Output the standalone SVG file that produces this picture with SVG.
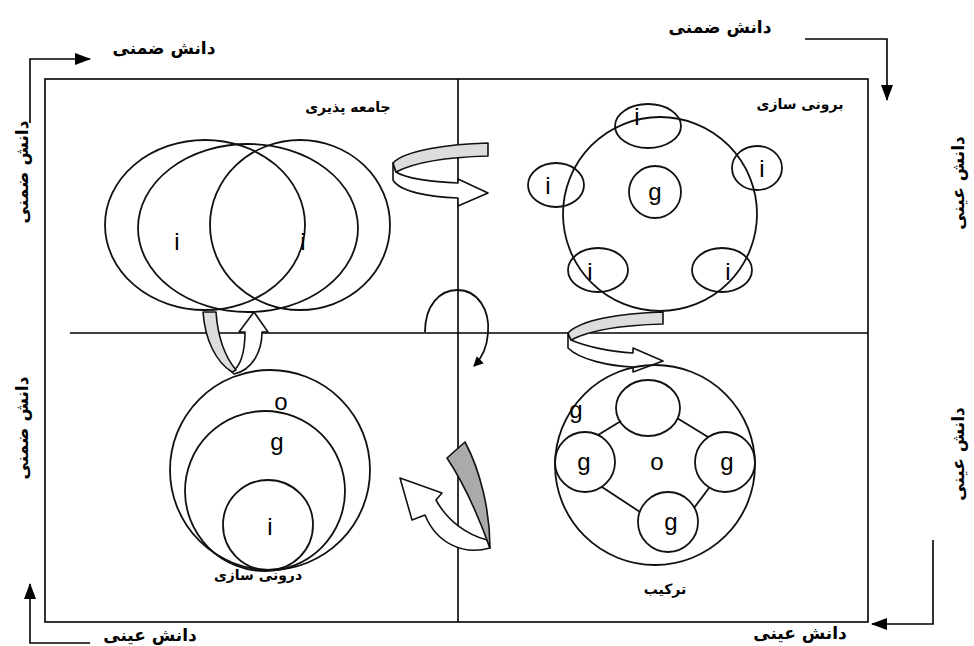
<svg xmlns="http://www.w3.org/2000/svg" width="974" height="646" viewBox="0 0 974 646">
<defs>
<style>
.ln{fill:none;stroke:#000;stroke-width:1.6}
.sh{fill:none;stroke:#111;stroke-width:1.8}
.lbl{font-family:"DejaVu Sans",sans-serif;font-weight:bold;font-size:17px;fill:#000}
.ql{font-family:"DejaVu Sans",sans-serif;font-weight:bold;font-size:14px;fill:#000}
.lt{font-family:"Liberation Sans",Arial,sans-serif;font-size:24px;fill:#000;text-anchor:middle}
.wa{fill:#fff;stroke:#111;stroke-width:1.6;stroke-linejoin:round}
.ga{fill:#ddd;stroke:#111;stroke-width:1.6;stroke-linejoin:round}
.gd{fill:#aaa;stroke:#111;stroke-width:1.6;stroke-linejoin:round}
</style>
<marker id="ah" markerWidth="10" markerHeight="10" refX="9" refY="5" orient="auto" markerUnits="userSpaceOnUse" viewBox="0 0 10 10">
<path d="M0,0 L10,5 L0,10 Z" fill="#000"/>
</marker>
<marker id="ahb" markerWidth="16" markerHeight="12" refX="15" refY="6" orient="auto" markerUnits="userSpaceOnUse" viewBox="0 0 16 12">
<path d="M0,0 L16,6 L0,12 Z" fill="#000"/>
</marker>
</defs>
<rect width="974" height="646" fill="#fff"/>

<g id="frame">
<rect x="45" y="79" width="823" height="543" class="ln"/>
<line x1="458" y1="79" x2="458" y2="622" class="ln"/>
<line x1="70" y1="333" x2="868" y2="333" class="ln"/>
</g>

<g id="connectors">
<polyline points="30,123 30,59 90,59" class="ln" marker-end="url(#ahb)"/>
<polyline points="805,39 887,39 887,100" class="ln" marker-end="url(#ahb)"/>
<polyline points="933,540 933,624 872,624" class="ln" marker-end="url(#ahb)"/>
<polyline points="90,643 30,643 30,584" class="ln" marker-end="url(#ahb)"/>
<!-- top U-turn -->
<path class="wa" d="M393,163 L393,180 C400,192 430,197 458,198 L458,206 L488,193 L458,179 L458,183 C430,182 405,178 396,172 Z"/>
<path class="ga" d="M393,163 C405,150 450,144 488,143 L488,156 C450,157 415,162 396,172 Z"/>
<!-- right U-turn -->
<path class="wa" d="M568,333 L568,348 C580,360 610,366 633,367 L633,372 L663,361 L633,348 L633,353 C610,352 585,346 571,340 Z"/>
<path class="ga" d="M568,333 C580,320 620,313 663,312 L663,324 C625,325 590,330 571,340 Z"/>
<!-- left U-turn -->
<path class="wa" d="M232,372 C242,365 245,350 245,332 L239,332 L254,312 L268,332 L262,332 C262,352 252,370 234,374 Z"/>
<path class="ga" d="M203,312 L216,312 C218,340 226,358 236,370 L232,372 C216,362 205,340 203,312 Z"/>
<!-- bottom U-turn -->
<path class="wa" d="M490,548 C462,556 436,542 425,515 L412,520 L400,478 L442,493 L436,500 C448,522 468,535 487,540 Z"/>
<path class="gd" d="M447,458 L465,442 C480,470 490,510 490,548 C478,515 465,485 447,458 Z"/>
<!-- center loop -->
<path class="sh" d="M425,332 C425,305 440,290 457,290 C478,290 490,310 488,333 C487,348 482,358 474,366" marker-end="url(#ah)"/>
</g>

<g id="labels">
<text class="lbl" x="164" y="54" text-anchor="middle" direction="rtl">دانش ضمنی</text>
<text class="lbl" x="720" y="33" text-anchor="middle" direction="rtl">دانش ضمنی</text>
<text class="lbl" x="150" y="641" text-anchor="middle" direction="rtl">دانش عینی</text>
<text class="lbl" x="800" y="639" text-anchor="middle" direction="rtl">دانش عینی</text>
<text class="lbl" transform="translate(28,172) rotate(-90)" text-anchor="middle" direction="rtl">دانش ضمنی</text>
<text class="lbl" transform="translate(28,428) rotate(-90)" text-anchor="middle" direction="rtl">دانش ضمنی</text>
<text class="lbl" transform="translate(964,183) rotate(-90)" text-anchor="middle" direction="rtl">دانش عینی</text>
<text class="lbl" transform="translate(964,454) rotate(-90)" text-anchor="middle" direction="rtl">دانش عینی</text>
</g>

<g id="socialization">
<text class="ql" x="348" y="112" text-anchor="middle" direction="rtl">جامعه پذیری</text>
<ellipse cx="205" cy="225" rx="100" ry="85" class="sh"/>
<ellipse cx="300" cy="225" rx="90" ry="85" class="sh"/>
<ellipse cx="248" cy="228" rx="110" ry="84" class="sh"/>
<text class="lt" x="177" y="250">i</text>
<text class="lt" x="303" y="250">i</text>
</g>

<g id="externalization">
<text class="ql" x="800" y="109" text-anchor="middle" direction="rtl">برونی سازی</text>
<circle cx="660" cy="214" r="97" class="sh"/>
<circle cx="655" cy="192" r="26" class="sh"/>
<text class="lt" x="655" y="200">g</text>
<ellipse cx="648" cy="126" rx="33" ry="22" class="sh"/>
<text class="lt" x="637" y="125">i</text>
<ellipse cx="757" cy="168" rx="25" ry="22" class="sh"/>
<text class="lt" x="762" y="177">i</text>
<ellipse cx="556" cy="185" rx="28" ry="22" class="sh"/>
<text class="lt" x="548" y="194">i</text>
<ellipse cx="598" cy="270" rx="30" ry="22" class="sh"/>
<text class="lt" x="590" y="280">i</text>
<ellipse cx="722" cy="270" rx="30" ry="22" class="sh"/>
<text class="lt" x="728" y="280">i</text>
</g>

<g id="combination">
<circle cx="655" cy="465" r="100" class="sh"/>
<ellipse cx="648" cy="408" rx="32" ry="28" class="sh"/>
<circle cx="585" cy="462" r="30" class="sh"/>
<circle cx="725" cy="462" r="30" class="sh"/>
<circle cx="668" cy="522" r="30" class="sh"/>
<line x1="621" y1="421" x2="598" y2="435" class="sh"/>
<line x1="602" y1="487" x2="640" y2="512" class="sh"/>
<line x1="694" y1="508" x2="709" y2="488" class="sh"/>
<line x1="677" y1="418" x2="708" y2="437" class="sh"/>
<text class="lt" x="576" y="418">g</text>
<text class="lt" x="584" y="470">g</text>
<text class="lt" x="727" y="470">g</text>
<text class="lt" x="671" y="530">g</text>
<text class="lt" x="657" y="470">o</text>
<text class="ql" x="665" y="594" text-anchor="middle" direction="rtl">ترکیب</text>
</g>

<g id="internalization">
<circle cx="270" cy="470" r="100" class="sh"/>
<ellipse cx="265" cy="491" rx="80" ry="80" class="sh"/>
<circle cx="268" cy="525" r="45" class="sh"/>
<text class="lt" x="281" y="410">o</text>
<text class="lt" x="277" y="450">g</text>
<text class="lt" x="270" y="535">i</text>
<text class="ql" x="258" y="580" text-anchor="middle" direction="rtl">درونی سازی</text>
</g>
</svg>
